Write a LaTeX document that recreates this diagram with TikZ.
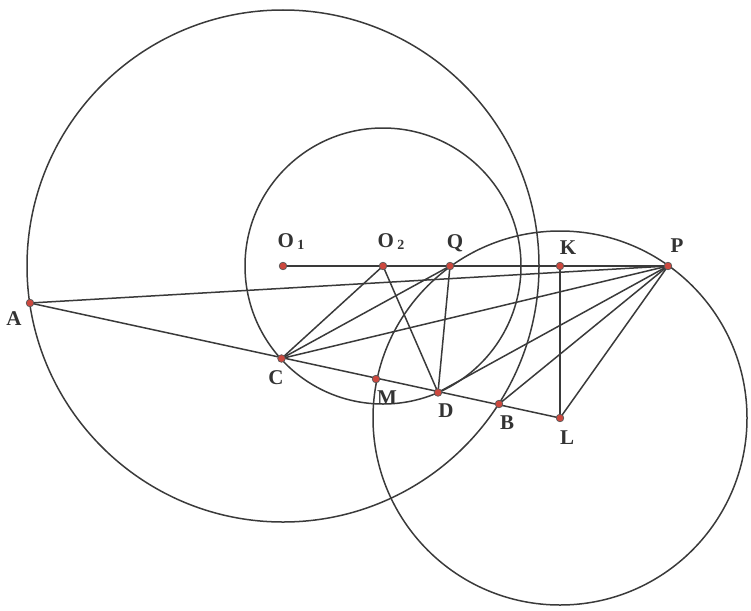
\documentclass[tikz,border=0pt]{standalone}
\usepackage{fontspec}
\setmainfont{Liberation Serif}
\definecolor{lincol}{RGB}{58,58,58}
\definecolor{dotcol}{RGB}{205,72,62}
\tikzset{
 ln/.style={draw=lincol,line width=1.5pt},
 pt/.style={fill=dotcol,draw=black!65,line width=0.7pt},
 lab/.style={font=\fontsize{21}{25}\selectfont\bfseries,text=black!80}
}
\newcommand{\subx}[1]{\,\raisebox{-0.2ex}{\fontsize{14}{16}\selectfont #1}}
\begin{document}
\begin{tikzpicture}[x=1pt,y=-1pt]
 \useasboundingbox (0,0) rectangle (751,610);
 % points
 \coordinate (O1) at (283,266);
 \coordinate (O2) at (383,266);
 \coordinate (Q) at (450,266);
 \coordinate (K) at (560,266);
 \coordinate (P) at (668,266);
 \coordinate (A) at (30,303);
 \coordinate (C) at (281.5,358.5);
 \coordinate (M) at (376,379);
 \coordinate (D) at (438,392.5);
 \coordinate (B) at (499,404);
 \coordinate (L) at (560,418);
 % circles
 \draw[ln] (O1) circle (256pt);
 \draw[ln] (O2) circle (138pt);
 \draw[ln] (L) circle (187pt);
 % segments
 \draw[ln] (O1)--(P);
 \draw[ln] (A)--(P);
 \draw[ln] (A)--(L);
 \draw[ln] (C)--(O2);
 \draw[ln] (C)--(Q);
 \draw[ln] (C)--(P);
 \draw[ln] (O2)--(D);
 \draw[ln] (Q)--(D);
 \draw[ln] (D)--(P);
 \draw[ln] (B)--(P);
 \draw[ln] (L)--(P);
 \draw[ln] (K)--(L);
 % dots
 \foreach \p in {O1,O2,Q,K,P,A,C,M,D,B,L}
  \draw[pt] (\p) circle (3.8pt);
 % labels
 \node[lab] (lO1) at (291,242) {O\subx{1}};
 \node[lab] (lO2) at (391,242) {O\subx{2}};
 \node[lab] (lQ) at (455,243) {Q};
 \node[lab] (lK) at (568,248) {K};
 \node[lab] (lP) at (677,246) {P};
 \node[lab] (lA) at (14,319) {A};
 \node[lab] (lC) at (276,378) {C};
 \node[lab] (lM) at (387,398) {M};
 \node[lab] (lD) at (446,411) {D};
 \node[lab] (lB) at (507,423) {B};
 \node[lab] (lL) at (567,438) {L};
\end{tikzpicture}
\end{document}
